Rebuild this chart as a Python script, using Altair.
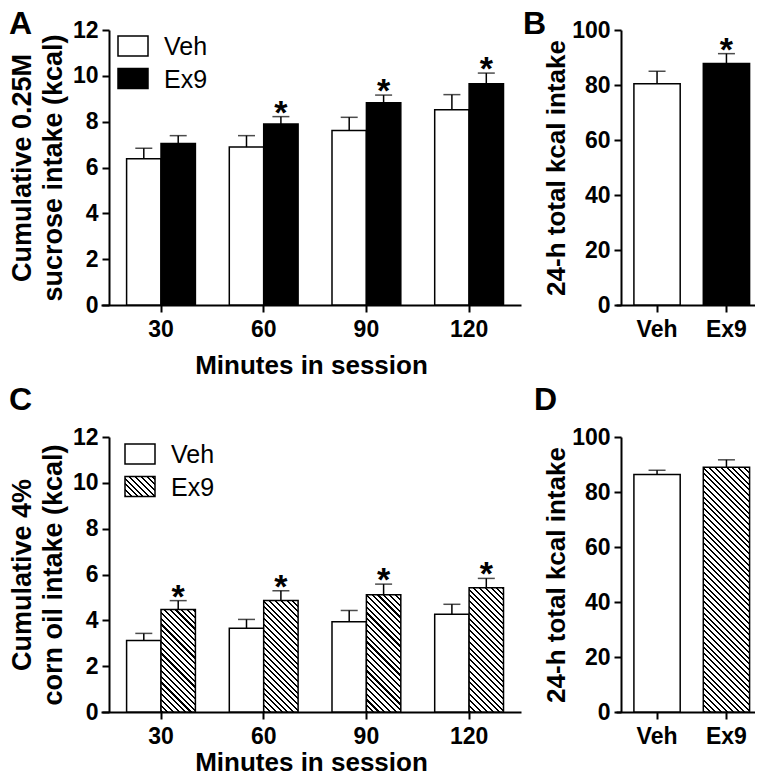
import math
import altair as alt
import pandas as pd

# ---------------- data ----------------
minutes = ["30", "60", "90", "120"]
groups = ["Veh", "Ex9"]

# Panel A: cumulative 0.25M sucrose intake (kcal)
a_veh = [6.38, 6.89, 7.62, 8.52]
a_veh_sem = [0.46, 0.50, 0.57, 0.66]
a_ex9 = [7.05, 7.90, 8.83, 9.66]
a_ex9_sem = [0.34, 0.32, 0.33, 0.46]
a_ex9_sig = [False, True, True, True]

# Panel B: 24-h total kcal intake
b_vals = [80.5, 87.8]
b_sem = [4.5, 3.6]
b_sig = [False, True]

# Panel C: cumulative 4% corn oil intake (kcal)
c_veh = [3.12, 3.65, 3.94, 4.27]
c_veh_sem = [0.31, 0.39, 0.49, 0.43]
c_ex9 = [4.47, 4.87, 5.12, 5.42]
c_ex9_sem = [0.39, 0.42, 0.46, 0.41]
c_ex9_sig = [True, True, True, True]

# Panel D: 24-h total kcal intake
d_vals = [86.4, 89.0]
d_sem = [1.5, 2.7]
d_sig = [False, False]

FONT = "Liberation Sans"
BIG_W, SMALL_W, H = 420, 139, 275
BIG_PI, BIG_PO, BIG_AL = 0.33, 0.2098, 0.594
SM_PI, SM_PO, SM_AL = 0.333, 0.168, 0.768


def grouped_df(veh, veh_sem, ex9, ex9_sem, ex9_sig):
    rows = []
    for i, m in enumerate(minutes):
        rows.append(dict(minute=m, group="Veh", value=veh[i], top=veh[i] + veh_sem[i], sig=False))
        rows.append(dict(minute=m, group="Ex9", value=ex9[i], top=ex9[i] + ex9_sem[i], sig=ex9_sig[i]))
    return pd.DataFrame(rows)


def pair_df(vals, sem, sig):
    return pd.DataFrame(dict(group=groups, value=vals,
                             top=[v + s for v, s in zip(vals, sem)], sig=sig))


def hatch(w, h, period=4.1, frac=0.36):
    t = (w + h) / (w * w + h * h)
    L = (w + h) / math.sqrt(2)
    stops = []
    k = 0.0
    while k * period < L:
        a = k * period / L
        b = min((k + frac) * period / L, 1.0)
        stops += [alt.GradientStop(offset=a, color="white"), alt.GradientStop(offset=a, color="black"),
                  alt.GradientStop(offset=b, color="black"), alt.GradientStop(offset=b, color="white")]
        k += 1
    stops.append(alt.GradientStop(offset=1.0, color="white"))
    return alt.LinearGradient(gradient="linear", stops=stops, x1=0, y1=1, x2=w * t, y2=1 - h * t)


dummy = pd.DataFrame({"d": [0]})


def letter(ch, x, y):
    return alt.Chart(dummy).mark_text(text=ch, font=FONT, fontSize=32, fontWeight="bold",
                                      align="left", baseline="top", color="black").encode(
        x=alt.value(x), y=alt.value(y))


def legend(x0, y0, ex9_fill):
    items = []
    for j, (g, f) in enumerate([("Veh", "white"), ("Ex9", ex9_fill)]):
        yy = y0 + j * 32.5
        items.append(alt.Chart(dummy).mark_rect(fill=f, stroke="black", strokeWidth=1.5).encode(
            x=alt.value(x0), x2=alt.value(x0 + 30), y=alt.value(yy), y2=alt.value(yy + 20)))
        items.append(alt.Chart(dummy).mark_text(text=g, font=FONT, fontSize=25, align="left",
                                                baseline="middle", color="black").encode(
            x=alt.value(x0 + 46), y=alt.value(yy + 11)))
    return items


def grouped_panel(df, ex9_fills, ytitle, ch, ch_y, leg_x, leg_y, leg_fill, xtitle_pad):
    base = alt.Chart(df).encode(
        x=alt.X("minute:N", scale=alt.Scale(domain=minutes, paddingInner=BIG_PI, paddingOuter=BIG_PO,
                                           align=BIG_AL),
                axis=alt.Axis(title="Minutes in session", labelAngle=0, titlePadding=xtitle_pad)),
        xOffset=alt.XOffset("group:N", scale=alt.Scale(domain=groups, paddingInner=0, paddingOuter=0)),
    )
    yenc = alt.Y("value:Q", scale=alt.Scale(domain=[0, 12], nice=False),
                 axis=alt.Axis(values=list(range(0, 13, 2)), title=ytitle, titleLineHeight=31,
                               titlePadding=5, titleFontSize=27, offset=-8))
    layers = [base.transform_filter(alt.datum.group == "Veh").mark_bar(
        fill="white", stroke="black", strokeWidth=1.5).encode(y=yenc)]
    for m, f in zip(minutes, ex9_fills):
        layers.append(base.transform_filter((alt.datum.group == "Ex9") & (alt.datum.minute == m)).mark_bar(
            fill=f, stroke="black", strokeWidth=1.5).encode(y="value:Q"))
    layers.append(base.mark_rule(color="black", strokeWidth=1.5).encode(y="value:Q", y2="top:Q"))
    layers.append(base.mark_tick(orient="horizontal", size=17, thickness=1.5, color="black").encode(y="top:Q"))
    layers.append(base.transform_filter(alt.datum.sig).mark_text(
        text="*", font=FONT, fontSize=34, fontWeight="bold", baseline="alphabetic", dy=7,
        color="black").encode(y="top:Q"))
    layers += legend(leg_x, leg_y, leg_fill)
    layers.append(letter(ch, -92, ch_y))
    return alt.layer(*layers).properties(width=BIG_W, height=H)


def pair_panel(df, fills, ch, ch_x, ch_y):
    base = alt.Chart(df).encode(
        x=alt.X("group:N", scale=alt.Scale(domain=groups, paddingInner=SM_PI, paddingOuter=SM_PO,
                                          align=SM_AL),
                axis=alt.Axis(title=None, labelAngle=0)))
    yenc = alt.Y("value:Q", scale=alt.Scale(domain=[0, 100], nice=False),
                 axis=alt.Axis(values=list(range(0, 101, 20)), title="24-h total kcal intake",
                               titlePadding=2, titleFontSize=26, offset=-5))
    layers = []
    for g, f in zip(groups, fills):
        enc = yenc if g == "Veh" else "value:Q"
        layers.append(base.transform_filter(alt.datum.group == g).mark_bar(
            fill=f, stroke="black", strokeWidth=1.5).encode(y=enc))
    layers.append(base.mark_rule(color="black", strokeWidth=1.5).encode(y="value:Q", y2="top:Q"))
    layers.append(base.mark_tick(orient="horizontal", size=17, thickness=1.5, color="black").encode(y="top:Q"))
    layers.append(base.transform_filter(alt.datum.sig).mark_text(
        text="*", font=FONT, fontSize=34, fontWeight="bold", baseline="alphabetic", dy=7,
        color="black").encode(y="top:Q"))
    layers.append(letter(ch, ch_x, ch_y))
    return alt.layer(*layers).properties(width=SMALL_W, height=H)


dfA = grouped_df(a_veh, a_veh_sem, a_ex9, a_ex9_sem, a_ex9_sig)
dfB = pair_df(b_vals, b_sem, b_sig)
dfC = grouped_df(c_veh, c_veh_sem, c_ex9, c_ex9_sem, c_ex9_sig)
dfD = pair_df(d_vals, d_sem, d_sig)

# hatch fills sized to each bar (style only)
step_big = BIG_W / (4 - BIG_PI + 2 * BIG_PO)
sub_w = step_big * (1 - BIG_PI) / 2
c_fills = [hatch(sub_w, v / 12 * H) for v in c_ex9]
step_small = SMALL_W / (2 - SM_PI + 2 * SM_PO)
d_w = step_small * (1 - SM_PI)
d_fill = hatch(d_w, d_vals[1] / 100 * H)

A = grouped_panel(dfA, ["black"] * 4, ["Cumulative 0.25M", "sucrose intake (kcal)"], "A", -21,
                  17, 6, "black", 11)
B = pair_panel(dfB, ["white", "black"], "B", -93, -21)
C = grouped_panel(dfC, c_fills, ["Cumulative 4%", "corn oil intake (kcal)"], "C", -52,
                  24, 7, hatch(30, 20), 1)
D = pair_panel(dfD, ["white", d_fill], "D", -82, -52)

chart = alt.concat(A, B, C, D, columns=2, spacing={"row": 132, "column": 95}, bounds="flush").properties(
    padding={"left": 0, "top": 0, "right": 0, "bottom": -3}
).configure_view(
    stroke=None
).configure_axis(
    domainColor="black", domainWidth=2, tickColor="black", tickWidth=2, tickSize=7,
    labelFont=FONT, labelFontSize=23, labelFontWeight="bold", labelColor="black", labelPadding=4,
    titleFont=FONT, titleFontSize=26, titleFontWeight="bold", titleColor="black", grid=False,
).configure_axisX(labelPadding=6)

chart.save("out.html", embed_options={"renderer": "svg", "actions": False})
